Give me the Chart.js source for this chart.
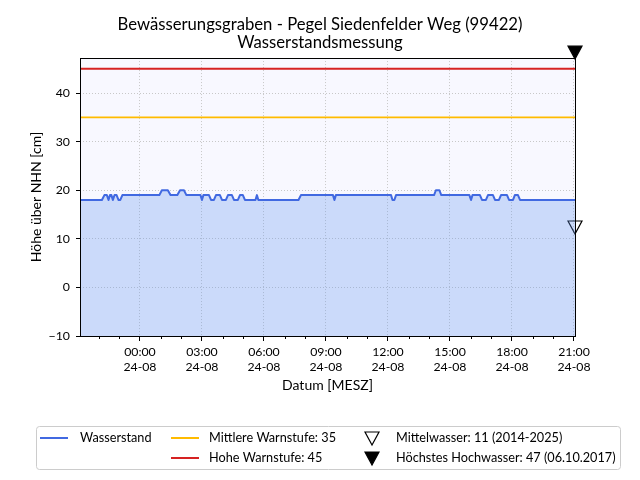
<!DOCTYPE html>
<html lang="de">
<head>
<meta charset="UTF-8">
<title>Bewässerungsgraben - Pegel Siedenfelder Weg (99422)</title>
<style>
    html, body {
        margin: 0;
        padding: 0;
        background: #ffffff;
    }
    #pegelChart {
        display: block;
    }
</style>
<script src="https://cdn.jsdelivr.net/npm/chart.js"></script>
</head>
<body>
<canvas id="pegelChart" width="640" height="480"></canvas>
<script>
// Messzeitpunkte in Stunden ab 24-08 00:00 (negative Werte = Abend des 23-08)
var zeiten = [-2.90, -1.84, -1.72, -1.60, -1.52, -1.45, -1.38, -1.31, -1.23, -1.13, -1.04, -0.95, -0.85,
              0.94, 1.06, 1.35, 1.48, 1.81, 1.94, 2.13, 2.25,
              2.93, 3.00, 3.07, 3.34, 3.44, 3.58, 3.68, 3.87, 3.97, 4.16, 4.26, 4.45, 4.55, 4.74, 4.84, 4.98, 5.08,
              5.59, 5.66, 5.73, 7.67, 7.79, 9.34, 9.41, 9.48,
              12.15, 12.22, 12.31, 12.39, 14.23, 14.32, 14.49, 14.58,
              15.94, 16.02, 16.09, 16.45, 16.55, 16.74, 16.84, 17.08, 17.18, 17.37, 17.47, 17.76, 17.86, 18.05, 18.14, 18.29, 18.39,
              21.05];
// Wasserstand in cm ueber NHN
var pegel = [18, 18, 19, 19, 18, 19, 19, 18, 19, 19, 18, 18, 19,
             19, 20, 20, 19, 19, 20, 20, 19,
             19, 18, 19, 19, 18, 18, 19, 19, 18, 18, 19, 19, 18, 18, 19, 19, 18,
             18, 19, 18, 18, 19, 19, 18, 19,
             19, 18, 18, 19, 19, 20, 20, 19,
             19, 18, 19, 19, 18, 18, 19, 19, 18, 18, 19, 19, 18, 18, 19, 19, 18,
             18];

var tickStunden = [0, 3, 6, 9, 12, 15, 18, 21];
var nebenStunden = [-2, -1, 1, 2, 4, 5, 7, 8, 10, 11, 13, 14, 16, 17, 19, 20];
var tickDatum = '24-08';
var yTicks = [-10, 0, 10, 20, 30, 40];

var mittlereWarnstufe = 35;
var hoheWarnstufe = 45;
var mittelwasser = 11;
var hoechstesHochwasser = 47;

var xMin = zeiten[0];
var xMax = zeiten[zeiten.length - 1];
var yMin = -10;
var yMax = 47.2;

Chart.defaults.font.family = 'Lato, "DejaVu Sans", sans-serif';
Chart.defaults.color = '#000000';

function zweistellig(n) {
    return (n < 10 ? '0' : '') + n;
}

// Dreieck mit der Spitze in der Bildmitte, damit die Spitze auf dem Wert sitzt
function dreieck(gefuellt) {
    var c = document.createElement('canvas');
    c.width = 16;
    c.height = 28;
    var g = c.getContext('2d');
    g.beginPath();
    g.moveTo(1, 1);
    g.lineTo(15, 1);
    g.lineTo(8, 14);
    g.closePath();
    if (gefuellt) {
        g.fillStyle = '#000000';
        g.fill();
    }
    g.lineWidth = 1.2;
    g.strokeStyle = '#000000';
    g.stroke();
    return c;
}

var dreieckLeer = dreieck(false);
var dreieckVoll = dreieck(true);

var pegelPunkte = zeiten.map(function (t, i) {
    return { x: t, y: pegel[i] };
});

var hintergrund = {
    id: 'hintergrund',
    beforeDraw: function (chart) {
        var a = chart.chartArea;
        var ctx = chart.ctx;
        ctx.save();
        ctx.fillStyle = '#f8f8ff';
        ctx.fillRect(a.left, a.top, a.right - a.left, a.bottom - a.top);
        ctx.restore();
    }
};

var rahmen = {
    id: 'rahmen',
    afterDatasetsDraw: function (chart) {
        var a = chart.chartArea;
        var ctx = chart.ctx;
        var x = chart.scales.x;
        ctx.save();
        ctx.strokeStyle = '#000000';
        ctx.lineWidth = 1;
        ctx.strokeRect(Math.round(a.left) + 0.5, Math.round(a.top) + 0.5,
                       Math.round(a.right - a.left), Math.round(a.bottom - a.top));
        // kleine Zwischenstriche jede Stunde
        ctx.beginPath();
        nebenStunden.forEach(function (h) {
            var px = Math.round(x.getPixelForValue(h)) + 0.5;
            ctx.moveTo(px, a.bottom);
            ctx.lineTo(px, a.bottom + 3);
        });
        ctx.stroke();
        ctx.restore();
    }
};

// Legende wie im Original: drei Spalten, zwei Zeilen
var legendeUnten = {
    id: 'legendeUnten',
    afterDraw: function (chart) {
        var ctx = chart.ctx;
        var ds = chart.data.datasets;
        var eintraege = [
            { i: 0, sx: 40, tx: 80, y: 438 },
            { i: 1, sx: 171, tx: 209, y: 438 },
            { i: 2, sx: 171, tx: 209, y: 458 },
            { i: 3, sx: 364, tx: 396, y: 438 },
            { i: 4, sx: 364, tx: 396, y: 458 }
        ];
        ctx.save();
        ctx.beginPath();
        ctx.roundRect(36.5, 426.5, 584, 43, 3);
        ctx.fillStyle = 'rgba(255,255,255,0.8)';
        ctx.fill();
        ctx.strokeStyle = '#cccccc';
        ctx.lineWidth = 1;
        ctx.stroke();
        ctx.font = '12.7px Lato, "DejaVu Sans", sans-serif';
        ctx.textBaseline = 'middle';
        ctx.fillStyle = '#000000';
        eintraege.forEach(function (e) {
            var d = ds[e.i];
            if (d.showLine === false) {
                ctx.drawImage(d.pointStyle, e.sx, e.y - 7);
            } else {
                ctx.beginPath();
                ctx.strokeStyle = d.borderColor;
                ctx.lineWidth = 2;
                ctx.moveTo(e.sx, e.y);
                ctx.lineTo(e.sx + 28, e.y);
                ctx.stroke();
            }
            ctx.fillText(d.label, e.tx, e.y);
        });
        ctx.restore();
    }
};

var ctx = document.getElementById('pegelChart').getContext('2d');
new Chart(ctx, {
    type: 'line',
    data: {
        datasets: [{
            label: 'Wasserstand',
            data: pegelPunkte,
            borderColor: '#4169e1',
            backgroundColor: 'rgba(100,149,237,0.3)',
            borderWidth: 2,
            borderJoinStyle: 'round',
            fill: 'start',
            pointRadius: 0,
            tension: 0
        }, {
            label: 'Mittlere Warnstufe: ' + mittlereWarnstufe,
            data: [{ x: xMin, y: mittlereWarnstufe }, { x: xMax, y: mittlereWarnstufe }],
            borderColor: '#ffbb00',
            borderWidth: 1.8,
            pointRadius: 0,
            fill: false
        }, {
            label: 'Hohe Warnstufe: ' + hoheWarnstufe,
            data: [{ x: xMin, y: hoheWarnstufe }, { x: xMax, y: hoheWarnstufe }],
            borderColor: '#d62222',
            borderWidth: 1.8,
            pointRadius: 0,
            fill: false
        }, {
            label: 'Mittelwasser: ' + mittelwasser + ' (2014-2025)',
            data: [{ x: xMax, y: mittelwasser }],
            showLine: false,
            pointStyle: dreieckLeer,
            pointRadius: 8,
            clip: false
        }, {
            label: 'Höchstes Hochwasser: ' + hoechstesHochwasser + ' (06.10.2017)',
            data: [{ x: xMax, y: hoechstesHochwasser }],
            showLine: false,
            pointStyle: dreieckVoll,
            pointRadius: 8,
            clip: false
        }]
    },
    options: {
        responsive: false,
        animation: false,
        layout: {
            padding: { left: 0, right: 0, top: 0, bottom: 86 }
        },
        scales: {
            x: {
                type: 'linear',
                min: xMin,
                max: xMax,
                afterFit: function (s) { s.height = 58; },
                afterBuildTicks: function (s) {
                    s.ticks = tickStunden.map(function (v) { return { value: v }; });
                },
                ticks: {
                    autoSkip: false,
                    maxRotation: 0,
                    padding: 3,
                    font: { size: 12.3, lineHeight: 1.27 },
                    callback: function (value) {
                        var h = ((value % 24) + 24) % 24;
                        return [zweistellig(h) + ':00', tickDatum];
                    }
                },
                grid: {
                    color: '#c8c8c8',
                    tickColor: '#000000',
                    tickBorderDash: [],
                    tickLength: 5
                },
                border: { display: false, dash: [1, 2] },
                title: {
                    display: true,
                    text: 'Datum [MESZ]',
                    font: { size: 14 },
                    padding: { top: 0, bottom: 0 }
                }
            },
            y: {
                min: yMin,
                max: yMax,
                afterFit: function (s) { s.width = 80; },
                afterBuildTicks: function (s) {
                    s.ticks = yTicks.map(function (v) { return { value: v }; });
                },
                ticks: {
                    padding: 6,
                    font: { size: 12.3 },
                    callback: function (value) {
                        return value < 0 ? '\u2212' + Math.abs(value) : String(value);
                    }
                },
                grid: {
                    color: '#c8c8c8',
                    tickColor: '#000000',
                    tickBorderDash: [],
                    tickLength: 4
                },
                border: { display: false, dash: [1, 2] },
                title: {
                    display: true,
                    text: 'Höhe über NHN [cm]',
                    font: { size: 14 },
                    padding: { top: 28, bottom: 0 }
                }
            },
            // leere Achse rechts, haelt den Platz neben dem Diagramm frei
            rechts: {
                position: 'right',
                display: true,
                afterFit: function (s) { s.width = 65; },
                ticks: { display: false },
                grid: { display: false, drawTicks: false },
                border: { display: false }
            }
        },
        plugins: {
            legend: { display: false },
            tooltip: { enabled: false },
            title: {
                display: true,
                text: ['Bewässerungsgraben - Pegel Siedenfelder Weg (99422)', 'Wasserstandsmessung'],
                font: { size: 16.7, weight: 'normal', lineHeight: 1.08 },
                color: '#000000',
                padding: { top: 16, bottom: 6 }
            }
        }
    },
    plugins: [hintergrund, rahmen, legendeUnten]
});
</script>
</body>
</html>
